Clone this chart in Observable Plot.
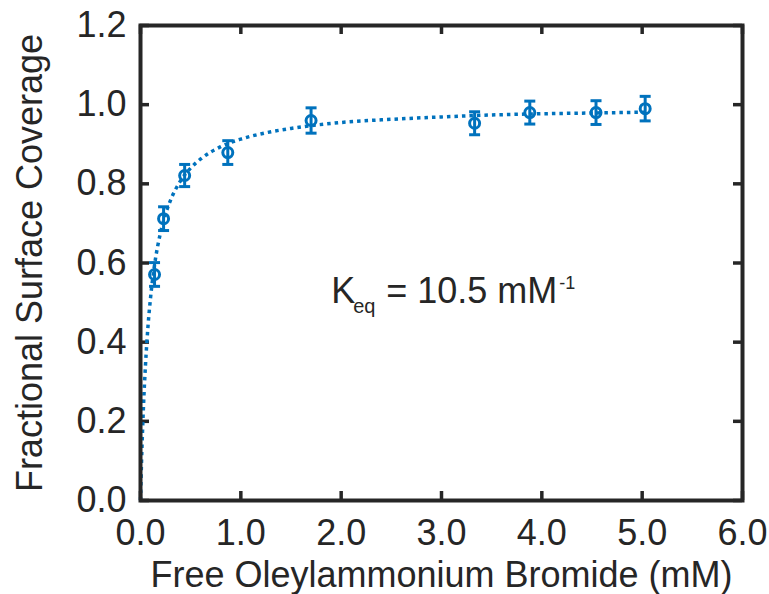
<!DOCTYPE html>
<html><head><meta charset="utf-8">
<script src="https://cdn.jsdelivr.net/npm/d3@7"></script>
<script src="https://cdn.jsdelivr.net/npm/@observablehq/plot@0.6"></script>
<style>html,body{margin:0;padding:0;background:#fff}</style>
</head><body><div id="chart"></div>
<script>
// Measured points (mM, fractional coverage, error)
const concentration = [0.14, 0.23, 0.44, 0.87, 1.70, 3.33, 3.88, 4.54, 5.03];
const coverage      = [0.571, 0.712, 0.821, 0.879, 0.960, 0.953, 0.980, 0.980, 0.990];
const coverageError = [0.030, 0.030, 0.028, 0.030, 0.032, 0.029, 0.029, 0.030, 0.031];

// Fitted Langmuir curve
const fitConcentration = [0, 0.01, 0.02, 0.03, 0.05, 0.075, 0.1, 0.14, 0.2, 0.25, 0.3, 0.4, 0.5, 0.6, 0.8, 1.0, 1.25, 1.5, 2.0, 2.5, 3.0, 3.5, 4.0, 4.5, 5.03];
const fitCoverage      = [0, 0.095, 0.174, 0.240, 0.344, 0.441, 0.512, 0.595, 0.677, 0.724, 0.759, 0.808, 0.840, 0.863, 0.894, 0.913, 0.929, 0.940, 0.955, 0.963, 0.969, 0.974, 0.977, 0.979, 0.981];

const xTicks = [0, 1, 2, 3, 4, 5, 6];
const yTicks = [0, 0.2, 0.4, 0.6, 0.8, 1.0, 1.2];
const xLabel = "Free Oleylammonium Bromide (mM)";
const yLabel = "Fractional Surface Coverage";
const annotationParts = ["K", "eq", "= 10.5 mM", "-1"];

const points = concentration.map((c, i) => ({x: c, y: coverage[i], e: coverageError[i]}));
const fit = fitConcentration.map((c, i) => ({x: c, y: fitCoverage[i]}));

const blue = "#0072BD";
const ink = "#262626";
const W = 769, H = 594, mL = 140, mR = 27, mT = 25, mB = 94;
const pw = W - mL - mR, ph = H - mT - mB, tl = 9;
const cap = {draw(ctx, size) { const r = Math.sqrt(size / Math.PI); ctx.moveTo(-r, 0); ctx.lineTo(r, 0); }};
const annX = () => 1.9, annY = () => 0.5;

const chart = Plot.plot({
  width: W, height: H,
  marginLeft: mL, marginRight: mR, marginTop: mT, marginBottom: mB,
  style: {fontFamily: "'Liberation Sans', Arial, Helvetica, sans-serif", fontSize: "36px", color: ink, background: "#fff", overflow: "visible"},
  x: {domain: [0, 6]},
  y: {domain: [0, 1.2]},
  marks: [
    Plot.axisX(xTicks, {anchor: "bottom", tickSize: 0, tickPadding: 19, tickFormat: d3.format(".1f"), label: xLabel, labelAnchor: "center", labelOffset: 86, labelArrow: "none", fontSize: 36}),
    Plot.axisY(yTicks, {anchor: "left", tickSize: 0, tickPadding: 14, tickFormat: d3.format(".1f"), label: yLabel, labelAnchor: "center", labelOffset: 124, labelArrow: "none", fontSize: 36}),
    Plot.tickX(xTicks, {x: d => d, insetTop: ph - tl, stroke: ink, strokeWidth: 3.5}),
    Plot.tickX(xTicks, {x: d => d, insetBottom: ph - tl, stroke: ink, strokeWidth: 3.5}),
    Plot.tickY(yTicks, {y: d => d, insetRight: pw - tl, stroke: ink, strokeWidth: 3.5}),
    Plot.tickY(yTicks, {y: d => d, insetLeft: pw - tl, stroke: ink, strokeWidth: 3.5}),
    Plot.line(fit, {x: "x", y: "y", stroke: blue, strokeWidth: 3.5, strokeDasharray: "3.5 4", strokeLinecap: "butt", curve: "monotone-x"}),
    Plot.ruleX(points, {x: "x", y1: d => d.y - d.e, y2: d => d.y + d.e, stroke: blue, strokeWidth: 3}),
    Plot.dot(points, {x: "x", y: d => d.y + d.e, symbol: cap, r: 5.5, stroke: blue, strokeWidth: 3, fill: "none"}),
    Plot.dot(points, {x: "x", y: d => d.y - d.e, symbol: cap, r: 5.5, stroke: blue, strokeWidth: 3, fill: "none"}),
    Plot.dot(points, {x: "x", y: "y", r: 5, stroke: blue, strokeWidth: 3, fill: "none"}),
    Plot.text([annotationParts[0]], {x: annX, y: annY, text: d => d, textAnchor: "start", lineAnchor: "bottom", fontSize: 36, fill: ink}),
    Plot.text([annotationParts[1]], {x: annX, y: annY, text: d => d, textAnchor: "start", lineAnchor: "bottom", dx: 22, dy: 10, fontSize: 20, fill: ink}),
    Plot.text([annotationParts[2]], {x: annX, y: annY, text: d => d, textAnchor: "start", lineAnchor: "bottom", dx: 55, fontSize: 36, fill: ink}),
    Plot.text([annotationParts[3]], {x: annX, y: annY, text: d => d, textAnchor: "start", lineAnchor: "bottom", dx: 228, dy: -14, fontSize: 18, fill: ink}),
    Plot.frame({stroke: ink, strokeWidth: 4})
  ]
});
document.getElementById("chart").appendChild(chart);
</script>
</body></html>
